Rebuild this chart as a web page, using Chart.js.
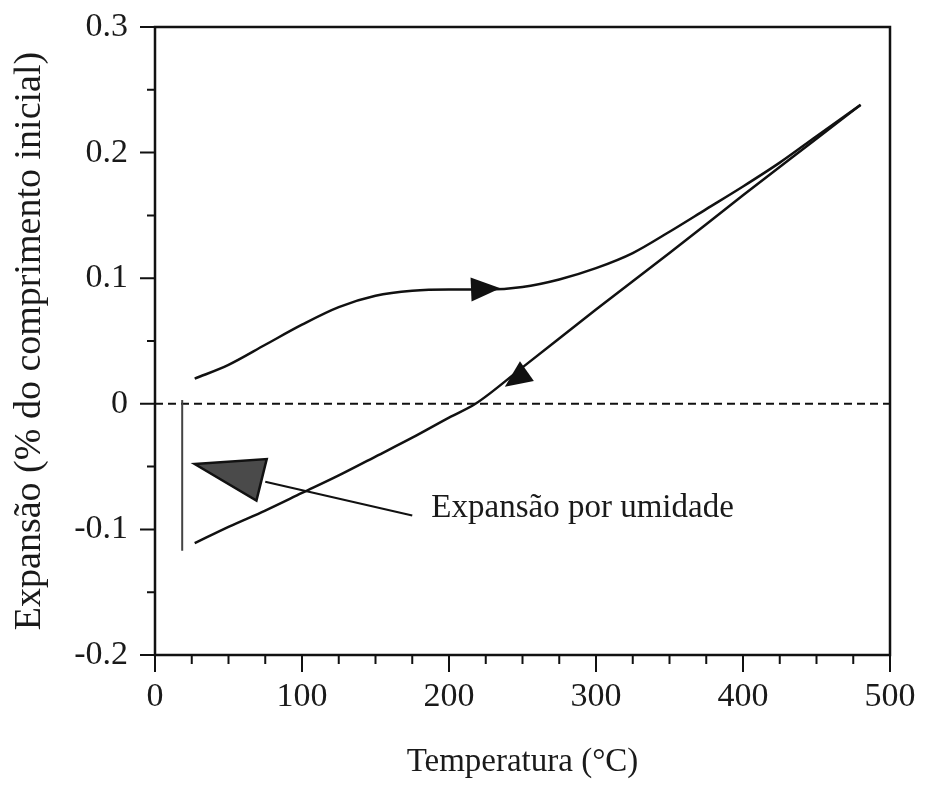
<!DOCTYPE html>
<html>
<head>
<meta charset="utf-8">
<script src="https://cdn.jsdelivr.net/npm/chart.js@4.4.1/dist/chart.umd.min.js"></script>
<style>
  html, body { margin: 0; padding: 0; background: #fff; }
</style>
</head>
<body>
<canvas id="chart" width="925" height="790"></canvas>
<script>
// heating run (upper curve)
const heatTemp = [27, 50, 75, 100, 125, 150, 175, 200, 225, 250, 275, 300, 325, 350, 375, 400, 425, 450, 480]
const heatExp  = [0.020, 0.031, 0.047, 0.063, 0.077, 0.086, 0.090, 0.091, 0.091, 0.093, 0.099, 0.108, 0.120, 0.137, 0.155, 0.173, 0.192, 0.213, 0.238]

// cooling run (lower curve)
const coolTemp = [27, 50, 75, 100, 125, 150, 175, 200, 218, 250, 300, 350, 400, 450, 480]
const coolExp  = [-0.111, -0.098, -0.085, -0.071, -0.057, -0.042, -0.027, -0.011, 0.000, 0.029, 0.075, 0.120, 0.166, 0.211, 0.238]

// moisture expansion step at the start
const moistTemp = [18.5, 18.5]
const moistExp  = [0.003, -0.117]

const xTicks = [0, 100, 200, 300, 400, 500]
const xMinor = [25, 50, 75, 125, 150, 175, 225, 250, 275, 325, 350, 375, 425, 450, 475]
const yTicks = [-0.2, -0.1, 0, 0.1, 0.2, 0.3]
const yTickLabels = ['-0.2', '-0.1', '0', '0.1', '0.2', '0.3']
const yMinor = [-0.15, -0.05, 0.05, 0.15, 0.25]

// direction arrows: [tail, tip] in data units
const heatArrow = [[215, 0.091], [235, 0.092]]
const coolArrow = [[253, 0.026], [238, 0.0135]]

// callout for the moisture step
const calloutHead = [[27, -0.048], [76, -0.044], [69, -0.077]]
const calloutLine = [[75, -0.062], [175, -0.089]]
const calloutText = 'Expansão por umidade'
const calloutPos = [188, -0.0836]

const ink = '#111'
const serif = "'Liberation Serif', 'Times New Roman', serif"

const toPts = (xs, ys) => xs.map((x, i) => ({ x, y: ys[i] }))

const lineSet = (data, extra) => Object.assign({
  data,
  showLine: true,
  borderColor: ink,
  borderWidth: 2.5,
  pointRadius: 0,
  fill: false,
  cubicInterpolationMode: 'monotone'
}, extra)

const decorations = {
  id: 'decorations',
  afterDatasetsDraw(chart) {
    const { ctx, chartArea: a, scales: { x, y } } = chart
    const px = p => [x.getPixelForValue(p[0]), y.getPixelForValue(p[1])]

    ctx.save()
    ctx.strokeStyle = ink
    ctx.fillStyle = ink
    ctx.lineWidth = 2.5
    ctx.strokeRect(a.left, a.top, a.right - a.left, a.bottom - a.top)

    // outward tick marks
    ctx.lineWidth = 2
    ctx.beginPath()
    yTicks.forEach(v => { const p = y.getPixelForValue(v); ctx.moveTo(a.left - 15, p); ctx.lineTo(a.left, p) })
    yMinor.forEach(v => { const p = y.getPixelForValue(v); ctx.moveTo(a.left - 8, p); ctx.lineTo(a.left, p) })
    xTicks.forEach(v => { const p = x.getPixelForValue(v); ctx.moveTo(p, a.bottom); ctx.lineTo(p, a.bottom + 17) })
    xMinor.forEach(v => { const p = x.getPixelForValue(v); ctx.moveTo(p, a.bottom); ctx.lineTo(p, a.bottom + 9) })
    ctx.stroke()

    // arrowheads on the curves
    const arrowHead = (tail, tip, half) => {
      const [x0, y0] = px(tail)
      const [x1, y1] = px(tip)
      const dx = x1 - x0, dy = y1 - y0
      const len = Math.hypot(dx, dy)
      const nx = -dy / len * half, ny = dx / len * half
      ctx.beginPath()
      ctx.moveTo(x1, y1)
      ctx.lineTo(x0 + nx, y0 + ny)
      ctx.lineTo(x0 - nx, y0 - ny)
      ctx.closePath()
      ctx.fill()
    }
    arrowHead(heatArrow[0], heatArrow[1], 12)
    arrowHead(coolArrow[0], coolArrow[1], 12)

    // callout: pointer line, shaded head, label
    ctx.lineWidth = 2
    ctx.beginPath()
    ctx.moveTo(...px(calloutLine[0]))
    ctx.lineTo(...px(calloutLine[1]))
    ctx.stroke()

    ctx.beginPath()
    calloutHead.forEach((p, i) => i ? ctx.lineTo(...px(p)) : ctx.moveTo(...px(p)))
    ctx.closePath()
    ctx.fillStyle = '#4a4a4a'
    ctx.fill()
    ctx.lineWidth = 2.5
    ctx.stroke()

    ctx.fillStyle = '#1a1a1a'
    ctx.font = `33px ${serif}`
    ctx.textAlign = 'left'
    ctx.textBaseline = 'middle'
    const [tx, ty] = px(calloutPos)
    ctx.fillText(calloutText, tx, ty)
    ctx.restore()
  }
}

new Chart(document.getElementById('chart'), {
  type: 'scatter',
  data: {
    datasets: [
      lineSet(toPts(heatTemp, heatExp)),
      lineSet(toPts(coolTemp, coolExp)),
      lineSet(toPts(moistTemp, moistExp), { borderColor: '#444', borderWidth: 2 }),
      lineSet(toPts([0, 500], [0, 0]), { borderWidth: 2, borderDash: [8, 5] })
    ]
  },
  options: {
    responsive: false,
    animation: false,
    layout: { autoPadding: false, padding: { top: 27, right: 35, bottom: 0, left: 0 } },
    plugins: { legend: { display: false }, tooltip: { enabled: false } },
    scales: {
      x: {
        type: 'linear',
        min: 0,
        max: 500,
        afterBuildTicks: s => { s.ticks = xTicks.map(v => ({ value: v })) },
        afterFit: s => { s.height = 135; s.paddingLeft = 0; s.paddingRight = 0 },
        grid: { display: false, drawTicks: false },
        border: { display: false },
        ticks: {
          autoSkip: false,
          maxRotation: 0,
          padding: 22,
          color: '#1a1a1a',
          font: { family: serif, size: 34 },
          callback: v => String(v)
        },
        title: {
          display: true,
          text: 'Temperatura (°C)',
          color: '#1a1a1a',
          font: { family: serif, size: 33 },
          padding: { top: 0, bottom: 8 }
        }
      },
      y: {
        type: 'linear',
        min: -0.2,
        max: 0.3,
        afterBuildTicks: s => { s.ticks = yTicks.map(v => ({ value: v })) },
        afterFit: s => { s.width = 155; s.paddingTop = 0; s.paddingBottom = 0 },
        grid: { display: false, drawTicks: false },
        border: { display: false },
        ticks: {
          padding: 27,
          color: '#1a1a1a',
          font: { family: serif, size: 34 },
          callback: (v, i) => yTickLabels[i]
        },
        title: {
          display: true,
          text: 'Expansão (% do comprimento inicial)',
          color: '#1a1a1a',
          font: { family: serif, size: 38 },
          padding: { top: 7, bottom: 0 }
        }
      }
    }
  },
  plugins: [decorations]
})
</script>
</body>
</html>
